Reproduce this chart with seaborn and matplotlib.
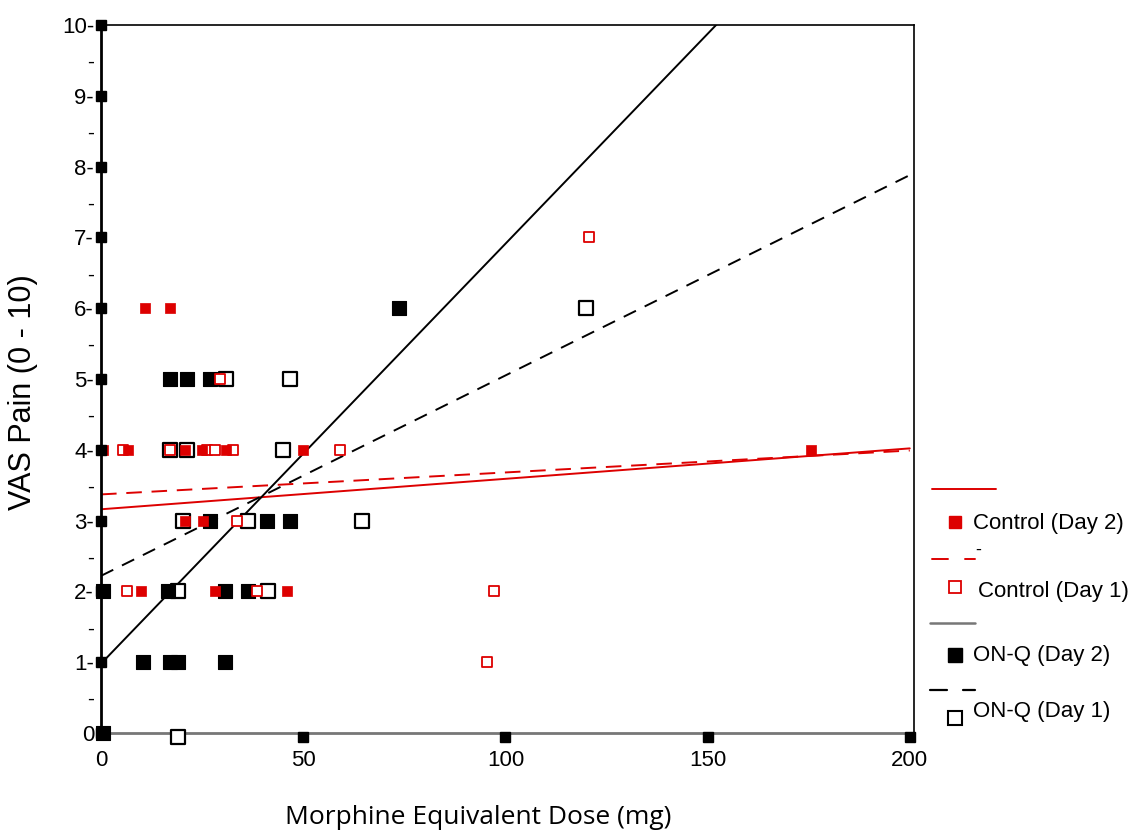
import numpy as np
import pandas as pd
import matplotlib
matplotlib.use('Agg')
import matplotlib.pyplot as plt
import seaborn as sns
from matplotlib.lines import Line2D

# Data: (dose in mg, VAS pain)
ctrl_d2_x = [10.9, 17.1, 0.5, 6.7, 20.8, 25.0, 31.0, 50.0, 175.5, 20.8, 25.2, 10.0, 28.2, 46.0]
ctrl_d2_y = [6, 6, 4, 4, 4, 4, 4, 4, 4, 3, 3, 2, 2, 2]

ctrl_d1_x = [5.5, 17.0, 26.2, 28.2, 32.6, 59.0, 29.4, 33.6, 6.4, 38.5, 120.6, 97.2, 95.4]
ctrl_d1_y = [4, 4, 4, 4, 4, 4, 5, 3, 2, 2, 7, 2, 1]

onq_d2_x = [73.7, 17.0, 21.2, 27.0, 27.0, 41.0, 46.7, 0.5, 16.6, 30.6, 36.3, 10.4, 17.0, 19.0, 30.6, 0.5]
onq_d2_y = [6, 5, 5, 5, 3, 3, 3, 2, 2, 2, 2, 1, 1, 1, 1, 0]

onq_d1_x = [120.0, 31.0, 46.7, 17.0, 21.2, 45.0, 20.3, 36.3, 64.5, 19.0, 41.3, 19.0]
onq_d1_y = [6, 5, 5, 4, 4, 4, 3, 3, 3, 2, 2, -0.05]

# Fitted lines (intercept, slope)
fit_names = ['Control (Day 2)', 'Control (Day 1)', 'ON-Q (Day 2)', 'ON-Q (Day 1)']
fit_intercepts = [3.16, 3.37, 0.98, 2.22]
fit_slopes = [0.0043, 0.0031, 0.0593, 0.0283]
fit_x = [0, 200]

y_ticks = list(range(0, 11))
y_minor = [k + 0.5 for k in range(0, 10)]
x_ticks = [0, 50, 100, 150, 200]

sns.set_style('white')
plt.rcParams['font.family'] = ['Liberation Sans', 'DejaVu Sans']
plt.rcParams['text.color'] = 'black'
plt.rcParams['xtick.color'] = 'black'
plt.rcParams['ytick.color'] = 'black'

fig = plt.figure(figsize=(11.38, 8.31), dpi=100)
ax = fig.add_axes([0.0888, 1 - 733 / 831, 0.7142, (733 - 25) / 831])

red = '#dd0000'

# regression lines
styles = [(red, '-'), (red, (0, (8, 5))), ('black', '-'), ('black', (0, (7, 5)))]
for name, b0, b1, (col, ls) in zip(fit_names, fit_intercepts, fit_slopes, styles):
    xs = np.array(fit_x, dtype=float)
    line_df = pd.DataFrame({'x': xs, 'y': b0 + b1 * xs})
    sns.lineplot(data=line_df, x='x', y='y', ax=ax, color=col, linestyle=ls,
                 linewidth=1.4, zorder=2)

# points
sns.scatterplot(x=onq_d2_x, y=onq_d2_y, ax=ax, marker='s', s=95, color='black',
                edgecolor='black', linewidth=0.8, zorder=4, clip_on=False)
sns.scatterplot(x=onq_d1_x, y=onq_d1_y, ax=ax, marker='s', s=95, facecolor='white',
                edgecolor='black', linewidth=1.6, zorder=3, clip_on=False)
sns.scatterplot(x=ctrl_d1_x, y=ctrl_d1_y, ax=ax, marker='s', s=45, facecolor='white',
                edgecolor=red, linewidth=1.3, zorder=5, clip_on=False)
sns.scatterplot(x=ctrl_d2_x, y=ctrl_d2_y, ax=ax, marker='s', s=55, color=red,
                edgecolor=red, linewidth=0.5, zorder=6, clip_on=False)

ax.set_xlim(0, 201)
ax.set_ylim(0, 10)

# axes frame
for side in ['top', 'right']:
    ax.spines[side].set_color('black')
    ax.spines[side].set_linewidth(1.2)
ax.spines['left'].set_color('black')
ax.spines['left'].set_linewidth(2.0)
ax.spines['bottom'].set_color('#777777')
ax.spines['bottom'].set_linewidth(2.0)

# ticks drawn as labels with trailing dash and square markers on the spine
ax.set_yticks(y_ticks)
ax.set_yticklabels([str(k) if k == 0 else f'{k}-' for k in y_ticks], fontsize=16)
ax.set_yticks(y_minor, minor=True)
ax.set_yticklabels(['-'] * len(y_minor), minor=True, fontsize=15)
ax.tick_params(axis='y', which='major', length=0, pad=5)
ax.tick_params(axis='y', which='minor', length=0, pad=5)
ax.set_xticks(x_ticks)
ax.set_xticklabels([str(k) for k in x_ticks], fontsize=16)
ax.tick_params(axis='x', length=0, pad=12)

ax.plot([0] * len(y_ticks), y_ticks, 's', color='black', markersize=7,
        clip_on=False, zorder=7)
ax.plot(x_ticks[1:], [-0.006] * 4, 's', color='black', markersize=7, clip_on=False,
        zorder=7, transform=ax.get_xaxis_transform())

ax.set_xlabel('')
ax.set_ylabel('')
fig.text(23 / 1138, 1 - 392 / 831, 'VAS Pain (0 - 10)', rotation=90, fontsize=22,
         ha='center', va='center')
fig.text(478 / 1138, 1 - 818 / 831, 'Morphine Equivalent Dose (mg)', fontsize=19,
         ha='center', va='center', family=['Open Sans', 'DejaVu Sans'])

# hand-made legend at the right
lax = fig.add_axes([0, 0, 1, 1])
lax.set_xlim(0, 1138)
lax.set_ylim(831, 0)
lax.axis('off')
lax.patch.set_visible(False)

lax.add_line(Line2D([932, 996], [489, 489], color=red, lw=1.4))
lax.plot([955], [522], 's', color=red, markersize=8)
lax.text(973, 523, 'Control (Day 2)', fontsize=16, va='center')

lax.add_line(Line2D([932, 948], [559, 559], color=red, lw=1.4))
lax.add_line(Line2D([965, 975], [559, 559], color=red, lw=1.4))
lax.text(975, 550, '-', fontsize=13, va='center')
lax.plot([955], [587], 's', markerfacecolor='white', markeredgecolor=red,
         markeredgewidth=1.3, markersize=8)
lax.text(978, 592, 'Control (Day 1)', fontsize=16, va='center')

lax.add_line(Line2D([930, 975], [623, 623], color='#777777', lw=1.8))
lax.plot([955], [655], 's', color='black', markersize=10)
lax.text(973, 655, 'ON-Q (Day 2)', fontsize=16, va='center')

lax.add_line(Line2D([930, 947], [690, 690], color='black', lw=1.6))
lax.add_line(Line2D([963, 975], [690, 690], color='black', lw=1.6))
lax.plot([955], [718], 's', markerfacecolor='white', markeredgecolor='black',
         markeredgewidth=1.5, markersize=10)
lax.text(973, 712, 'ON-Q (Day 1)', fontsize=16, va='center')

fig.savefig('out.png', dpi=100)
